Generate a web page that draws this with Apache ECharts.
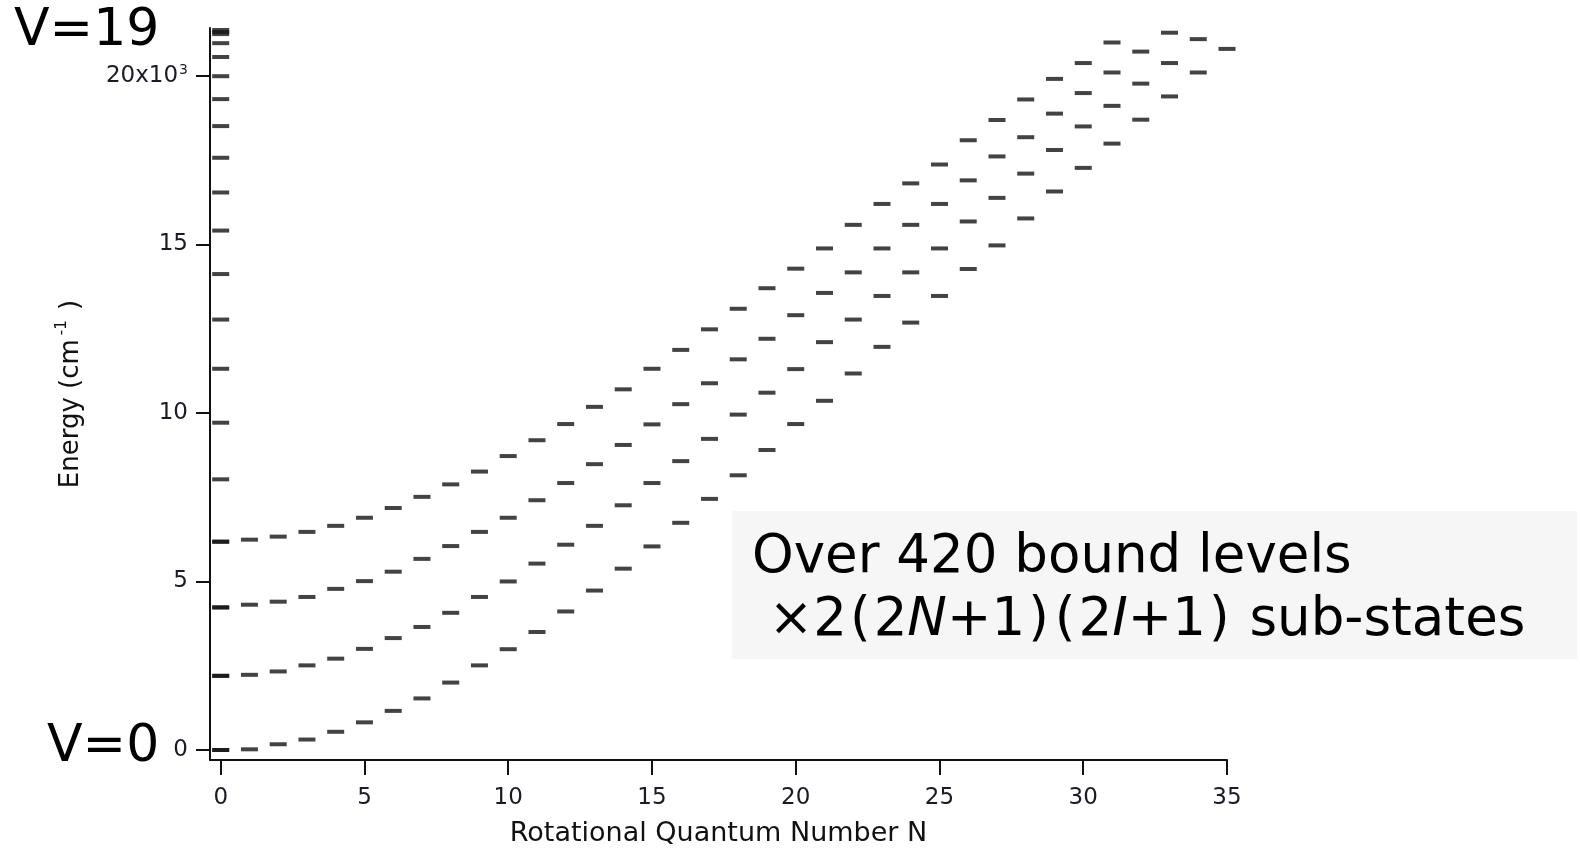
<!DOCTYPE html>
<html><head><meta charset="utf-8">
<script src="https://cdn.jsdelivr.net/npm/echarts@6/dist/echarts.min.js"></script>
<style>html,body{margin:0;padding:0;background:#fff}#c{width:1580px;height:848px}</style>
</head><body><div id="c"></div>
<script>
// Rotational quantum numbers
const rotN = [0,1,2,3,4,5,6,7,8,9,10,11,12,13,14,15,16,17,18,19,20,21,22,23,24,25,26,27,28,29,30,31,32,33,34,35];
// Vibrational levels V=0..19 at N=0 (cm^-1)
const vibLevelsN0 = [0,2200,4230,6180,8030,9710,11310,12770,14120,15410,16540,17570,18510,19310,19990,20560,20970,21240,21300,21360];
// Rotational ladders (cm^-1), index = N
const ladderV0 = [0,20,170,310,540,820,1160,1530,2000,2510,2990,3500,4110,4730,5380,6040,6740,7450,8150,8900,9670,10360,11170,11960,12680,13470,14270,14970,15770,16570,17270,17990,18700,19390,20100,20800];
const ladderV1 = [2200,2230,2330,2510,2710,3000,3320,3650,4070,4540,5000,5530,6090,6650,7260,7920,8570,9230,9950,10600,11300,12100,12770,13470,14170,14880,15680,16380,17100,17800,18500,19110,19770,20380,21090];
const ladderV2 = [4230,4310,4400,4540,4780,5010,5290,5670,6050,6470,6890,7410,7920,8480,9050,9660,10260,10880,11590,12200,12900,13560,14170,14880,15580,16200,16900,17610,18180,18880,19490,20100,20720,21280];
const ladderV3 = [6180,6240,6330,6470,6650,6890,7180,7510,7880,8260,8720,9190,9670,10180,10700,11310,11870,12480,13090,13700,14280,14880,15580,16200,16810,17370,18090,18690,19300,19910,20380,20990];
// Tick labels
const xTickValues = [0,5,10,15,20,25,30,35];
const yTickValues = [0,5000,10000,15000,20000];
const yTickLabels = ['0','5','10','15','20x10{sup|3}'];

const FONT = 'DejaVu Sans';
const dashColor = '#141414';
const labelColor = '#1a1a28';
function ladder(arr){ return arr.map((e,i)=>[rotN[i], e]); }
function dashSeries(data){
  return {type:'scatter', data:data, symbol:'rect', symbolSize:[17,4],
    itemStyle:{color:dashColor}, silent:true, animation:false};
}
const chart = echarts.init(document.getElementById('c'), null, {renderer:'canvas'});
chart.setOption({
  backgroundColor:'#ffffff',
  animation:false,
  grid:{left:210, right:353, top:28, bottom:88, outerBoundsMode:'none'},
  xAxis:{
    type:'value', min:-0.372, max:35,
    splitLine:{show:false},
    axisLine:{onZero:false, lineStyle:{color:'#111', width:2}},
    axisTick:{customValues:xTickValues, length:15, lineStyle:{color:'#111', width:2}},
    axisLabel:{customValues:xTickValues, margin:27, fontSize:23, fontFamily:FONT, color:labelColor},
    name:'Rotational Quantum Number N', nameLocation:'middle', nameGap:60,
    nameTextStyle:{fontSize:27, fontFamily:FONT, color:'#111'}
  },
  yAxis:{
    type:'value', min:-297, max:21420,
    splitLine:{show:false},
    axisLine:{show:true, onZero:false, lineStyle:{color:'#111', width:2}},
    axisTick:{show:true, customValues:yTickValues, length:14, lineStyle:{color:'#111', width:2}},
    axisLabel:{customValues:yTickValues, margin:22, fontSize:23, fontFamily:FONT, color:labelColor,
      formatter:function(v){ const i = yTickValues.indexOf(v); return i>=0 ? yTickLabels[i] : ''; },
      rich:{sup:{fontSize:14, fontFamily:FONT, color:labelColor, verticalAlign:'top', padding:[0,0,12,1]}}},
    name:'Energy (cm{sup|-1} )', nameLocation:'middle', nameGap:122,
    nameTextStyle:{fontSize:26, fontFamily:FONT, color:'#111',
      rich:{sup:{fontSize:15, fontFamily:FONT, color:'#111', verticalAlign:'top', padding:[0,2,18,4]}}}
  },
  series:[
    dashSeries(vibLevelsN0.map(e=>[rotN[0], e])),
    dashSeries(ladder(ladderV0)),
    dashSeries(ladder(ladderV1)),
    dashSeries(ladder(ladderV2)),
    dashSeries(ladder(ladderV3))
  ],
  graphic:[
    {type:'rect', shape:{x:732, y:511, width:845, height:148}, style:{fill:'#f6f6f6'}, z:-1, silent:true},
    {type:'text', x:752, y:558, style:{text:'Over 420 bound levels', font:'53px "DejaVu Sans"', fill:'#000', align:'left', verticalAlign:'middle'}},
    {type:'text', x:752, y:621, style:{text:' ×2{p|(}2{i|N}+1{p|)}{p|(}2{i|I}+1{p|)} sub-states', font:'53px "DejaVu Sans"', fill:'#000', align:'left', verticalAlign:'middle',
      rich:{i:{fontStyle:'italic', fontSize:53, fontFamily:FONT, fill:'#000'},
            p:{fontSize:53, fontFamily:FONT, fill:'#000', padding:[0,3,0,3]}}}},
    {type:'text', x:14, y:31, style:{text:'V=19', font:'52px "DejaVu Sans"', fill:'#000', align:'left', verticalAlign:'middle'}},
    {type:'text', x:47, y:747, style:{text:'V=0', font:'52px "DejaVu Sans"', fill:'#000', align:'left', verticalAlign:'middle'}}
  ]
});
</script></body></html>
